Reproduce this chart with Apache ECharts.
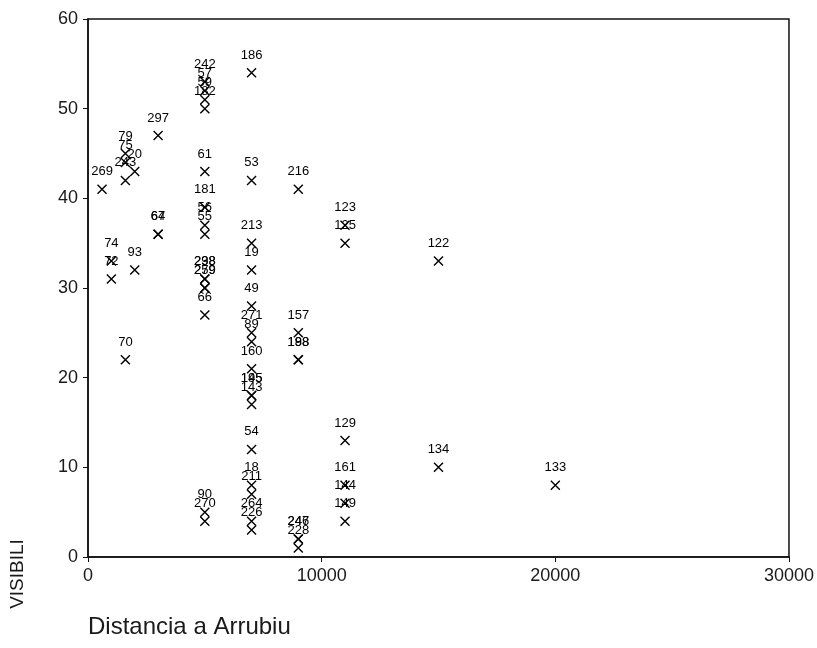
<!DOCTYPE html>
<html>
<head>
<meta charset="utf-8">
<script src="https://cdn.jsdelivr.net/npm/echarts/dist/echarts.min.js"></script>
<style>
html, body { margin: 0; padding: 0; background: #fff; }
#chart { width: 817px; height: 648px; }
</style>
</head>
<body>
<div id="chart"></div>
<script>
// case numbers, distance to Arrubiu, visibility
var caseIds = ['269', '74', '72', '79', '75', '243', '70', '20', '93', '297', '64', '67',
    '242', '57', '59', '182', '61', '181', '56', '55', '238', '298', '279', '259', '66', '90', '270',
    '186', '53', '213', '19', '49', '271', '89', '160', '145', '195', '143', '54', '18', '211', '264', '226',
    '216', '157', '188', '198', '246', '247', '228',
    '123', '125', '129', '161', '144', '149',
    '122', '134', '133'];
var distancia = [600, 1000, 1000, 1600, 1600, 1600, 1600, 2000, 2000, 3000, 3000, 3000,
    5000, 5000, 5000, 5000, 5000, 5000, 5000, 5000, 5000, 5000, 5000, 5000, 5000, 5000, 5000,
    7000, 7000, 7000, 7000, 7000, 7000, 7000, 7000, 7000, 7000, 7000, 7000, 7000, 7000, 7000, 7000,
    9000, 9000, 9000, 9000, 9000, 9000, 9000,
    11000, 11000, 11000, 11000, 11000, 11000,
    15000, 15000, 20000];
var visibili = [41, 33, 31, 45, 44, 42, 22, 43, 32, 47, 36, 36,
    53, 52, 51, 50, 43, 39, 37, 36, 31, 31, 30, 30, 27, 5, 4,
    54, 42, 35, 32, 28, 25, 24, 21, 18, 18, 17, 12, 8, 7, 4, 3,
    41, 25, 22, 22, 2, 2, 1,
    37, 35, 13, 8, 6, 4,
    33, 10, 8];
var xTicks = [0, 30000, 10000];   // min, max, interval
var yTicks = [0, 60, 10];

var myChart = echarts.init(document.getElementById('chart'));

var points = [];
for (var i = 0; i < caseIds.length; i++) {
    points.push({ name: caseIds[i], value: [distancia[i], visibili[i]] });
}

var font = '"Liberation Sans", Arial, sans-serif';

var option = {
    backgroundColor: '#fff',
    animation: false,
    grid: {
        left: 88,
        right: 27,
        top: 19,
        bottom: 91,
        show: true,
        borderColor: '#111',
        borderWidth: 1.5
    },
    xAxis: {
        type: 'value',
        min: xTicks[0],
        max: xTicks[1],
        interval: xTicks[2],
        splitLine: { show: false },
        axisLine: { lineStyle: { color: '#111', width: 1.5 } },
        axisTick: { show: true, length: 5, lineStyle: { color: '#111' } },
        axisLabel: {
            color: '#1a1a1a', fontSize: 18, fontFamily: font, margin: 10,
            formatter: function (v) { return String(v); }
        }
    },
    yAxis: {
        type: 'value',
        min: yTicks[0],
        max: yTicks[1],
        interval: yTicks[2],
        splitLine: { show: false },
        axisLine: { lineStyle: { color: '#111', width: 1.5 } },
        axisTick: { show: true, length: 5, lineStyle: { color: '#111' } },
        axisLabel: { color: '#1a1a1a', fontSize: 18, fontFamily: font, margin: 10 }
    },
    graphic: [
        {
            type: 'text',
            x: 18,
            y: 574,
            rotation: Math.PI / 2,
            style: {
                text: 'VISIBILI',
                fill: '#1a1a1a',
                font: '19px ' + font,
                textAlign: 'center',
                textVerticalAlign: 'middle'
            }
        },
        {
            type: 'text',
            x: 88,
            y: 627,
            style: {
                text: 'Distancia a Arrubiu',
                fill: '#1a1a1a',
                font: '24px ' + font,
                textAlign: 'left',
                textVerticalAlign: 'middle'
            }
        }
    ],
    series: [{
        type: 'scatter',
        data: points,
        symbol: 'path://M0,0L10,10M10,0L0,10',
        symbolSize: 9,
        itemStyle: {
            color: 'none',
            borderColor: '#000',
            borderWidth: 1.4,
            opacity: 1
        },
        label: {
            show: true,
            position: 'top',
            distance: 4,
            formatter: '{b}',
            color: '#000',
            opacity: 1,
            fontSize: 13,
            fontFamily: font
        }
    }]
};

myChart.setOption(option);
</script>
</body>
</html>
